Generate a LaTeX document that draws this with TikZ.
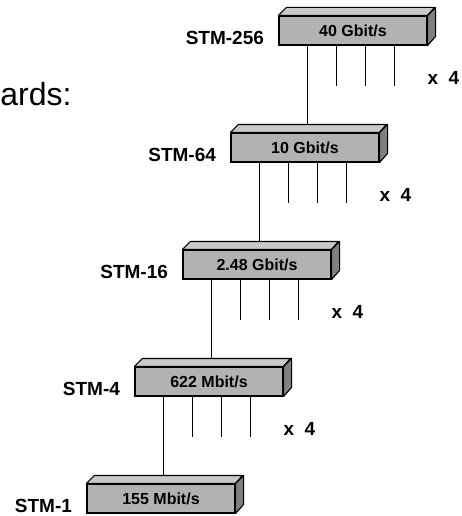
\documentclass[tikz,border=0pt]{standalone}
\usepackage{fontspec}
\setmainfont{Liberation Sans}
\usetikzlibrary{calc, positioning}

\tikzset{
  stmbox/.style={draw, fill=gray!60, minimum width=148pt, minimum height=29pt,
                 inner sep=0pt, font=\fontsize{16}{18}\selectfont\bfseries},
  stmlabel/.style={inner sep=0pt, font=\fontsize{19}{22}\selectfont\bfseries},
  topface/.style={draw, fill=gray!42, line join=round},
  sideface/.style={draw, fill=gray, line join=round},
}

\begin{document}
\begin{tikzpicture}[x=1pt,y=-1pt,line width=1.1pt]
  \useasboundingbox (0,0) rectangle (461,516);
  % cut-off heading
  \node[inner sep=0pt, anchor=base east, font=\fontsize{32}{38}\selectfont]
    (head) at (72,106) {ards:};
  % multiplex boxes
  \node[stmbox] (s256) at (353,30.5)  {40 Gbit/s};
  \node[stmbox] (s64)  at (305,147.5) {10 Gbit/s};
  \node[stmbox] (s16)  at (257,264.5) {2.48 Gbit/s};
  \node[stmbox] (s4)   at (209,381.5) {622 Mbit/s};
  \node[stmbox] (s1)   at (161,498.5) {155 Mbit/s};
  % 3d faces
  \foreach \n in {s256,s64,s16,s4,s1} {
    \draw[topface] (\n.north west) -- ++(8,-8) -- ++(148,0) -- (\n.north east) -- cycle;
    \draw[sideface] (\n.north east) -- ++(8,-8) -- ++(0,29) -- (\n.south east) -- cycle;
    \coordinate (\n-top) at ($(\n.north)+(0,-8)$);
  }
  % level names
  \foreach \n/\lab in {s256/STM-256, s64/STM-64, s16/STM-16, s4/STM-4, s1/STM-1}
    \node[stmlabel, anchor=base east] (\n-name) at ($(\n.south west)+(-14,-1)$) {\lab};
  % tributaries
  \foreach \n in {s256,s64,s16,s4} {
    \foreach \k in {1,2,3}
      \draw ($(\n.south west)+(29+29*\k,0)$) -- ++(0,40);
    \node[stmlabel] (\n-x) at ($(\n.south west)+(165,32)$) {x\ \ 4};
  }
  % links between levels
  \foreach \a/\b in {s256/s64, s64/s16, s16/s4, s4/s1} {
    \coordinate (\a-drop) at ($(\a.south west)+(29,0)$);
    \draw (\a-drop) -- (\a-drop |- \b-top);
  }
\end{tikzpicture}
\end{document}
